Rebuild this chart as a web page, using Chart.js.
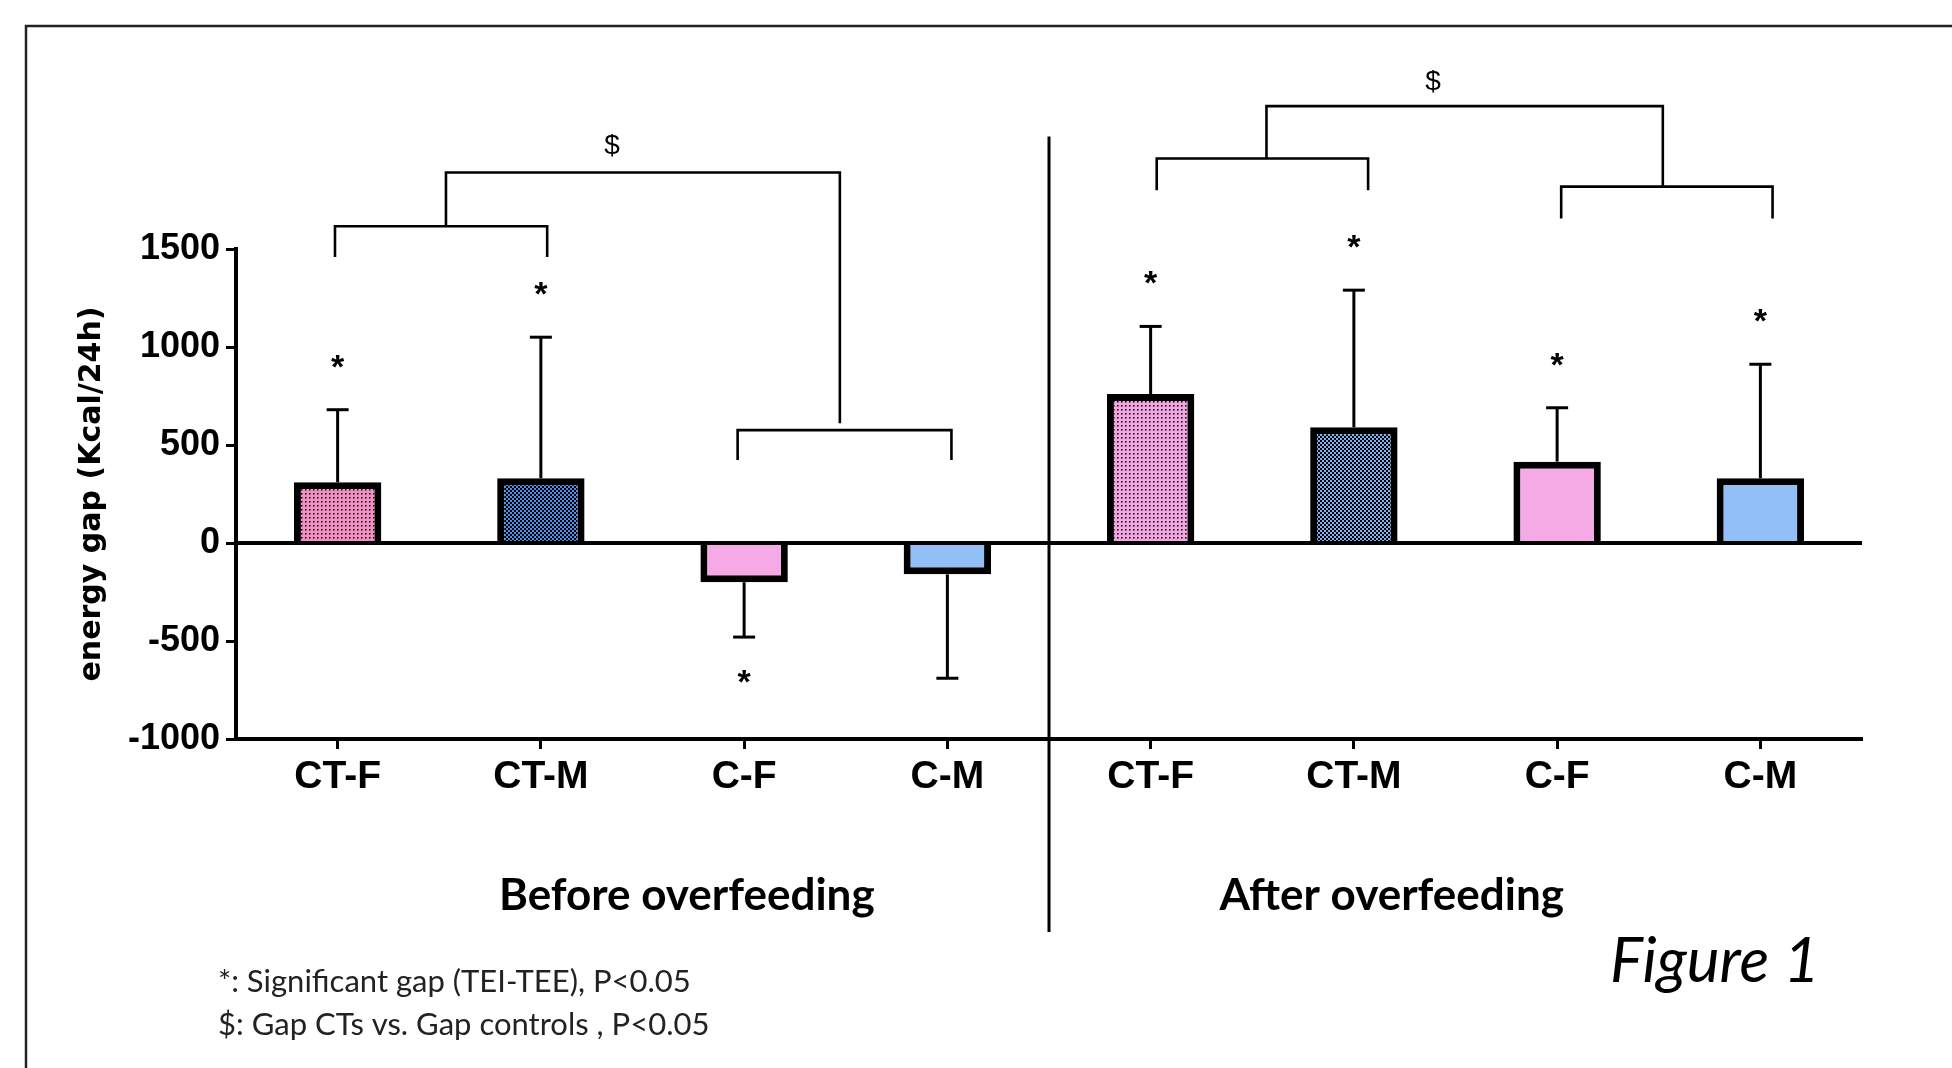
<!DOCTYPE html>
<html><head><meta charset="utf-8">
<script src="https://cdn.jsdelivr.net/npm/chart.js@4.4.1/dist/chart.umd.min.js"></script>
<style>html,body{margin:0;padding:0;background:#fff;}#wrap{width:1952px;height:1068px;position:relative;}</style>
</head><body><div id="wrap"><canvas id="c" width="1952" height="1068"></canvas></div>
<script>
// ---- data ----
const categories = ['CT-F', 'CT-M', 'C-F', 'C-M', 'CT-F', 'CT-M', 'C-F', 'C-M'];
const meanGap = [310, 330, -200, -160, 760, 590, 415, 330];
const sdGap = [370, 720, 280, 530, 345, 700, 275, 582];
const significant = [true, true, true, false, true, true, true, true];
const yTicks = [-1000, -500, 0, 500, 1000, 1500];
const groupLabels = ['Before overfeeding', 'After overfeeding'];
const notes = ['*: Significant gap (TEI-TEE), P<0.05', '$: Gap CTs vs. Gap controls , P<0.05'];
const yTitle = 'energy gap (Kcal/24h)';
const figureLabel = 'Figure 1';

// ---- styles ----
const canvas = document.getElementById('c');
const ctx0 = canvas.getContext('2d');
function dots(bg, dot, period, size) {
  const c = document.createElement('canvas');
  c.width = c.height = period;
  const g = c.getContext('2d');
  g.fillStyle = bg; g.fillRect(0, 0, period, period);
  g.fillStyle = dot; g.fillRect(1, 1, size, size);
  return ctx0.createPattern(c, 'repeat');
}
function checker(bg, dot) {
  const c = document.createElement('canvas');
  c.width = c.height = 4;
  const g = c.getContext('2d');
  g.fillStyle = bg; g.fillRect(0, 0, 4, 4);
  g.fillStyle = dot; g.fillRect(0, 0, 2, 2); g.fillRect(2, 2, 2, 2);
  return ctx0.createPattern(c, 'repeat');
}
const fills = [
  dots('#F48FC3', '#000', 4, 1.5),
  checker('#4B8FE8', '#000'),
  '#F5A9E5',
  '#92BFF7',
  dots('#F3A6E3', '#111', 4, 1.6),
  checker('#7EB2F2', '#000'),
  '#F5A9E5',
  '#92BFF7'
];

const annot = {
  id: 'annot',
  afterDatasetsDraw(chart) {
    const { ctx, scales: { x, y }, chartArea } = chart;
    ctx.save();
    ctx.strokeStyle = '#000';
    ctx.fillStyle = '#000';
    ctx.lineCap = 'butt';
    // zero line
    ctx.lineWidth = 4;
    ctx.beginPath();
    ctx.moveTo(chartArea.left, y.getPixelForValue(0));
    ctx.lineTo(chartArea.right, y.getPixelForValue(0));
    ctx.stroke();
    // error bars + asterisks
    meanGap.forEach((m, i) => {
      const px = x.getPixelForValue(i);
      const s = m >= 0 ? 1 : -1;
      const y0 = y.getPixelForValue(m);
      const end = m + s * sdGap[i];
      const y1 = y.getPixelForValue(end);
      ctx.lineWidth = 3;
      ctx.beginPath(); ctx.moveTo(px, y0); ctx.lineTo(px, y1); ctx.stroke();
      ctx.beginPath(); ctx.moveTo(px - 11, y1); ctx.lineTo(px + 11, y1); ctx.stroke();
      if (significant[i]) {
        const cy = y.getPixelForValue(end + s * 225);
        ctx.font = 'bold 34px "Liberation Sans"';
        ctx.textAlign = 'center';
        ctx.textBaseline = 'alphabetic';
        ctx.fillText('*', px, cy + 12);
      }
    });
    // brackets
    ctx.lineWidth = 2.6;
    ctx.lineJoin = 'miter';
    const X = i => x.getPixelForValue(i);
    const Y = v => y.getPixelForValue(v);
    function bracket(xl, xr, level, endL, endR) {
      ctx.beginPath();
      ctx.moveTo(X(xl), Y(endL)); ctx.lineTo(X(xl), Y(level)); ctx.lineTo(X(xr), Y(level)); ctx.lineTo(X(xr), Y(endR));
      ctx.stroke();
    }
    // before overfeeding
    bracket(-0.013, 1.031, 1616, 1459, 1459);
    bracket(1.968, 3.02, 576, 423, 423);
    bracket(0.533, 2.471, 1890, 1616, 611);
    // after overfeeding
    bracket(4.03, 5.07, 1962, 1800, 1800);
    bracket(6.02, 7.06, 1818, 1656, 1656);
    bracket(4.57, 6.52, 2229, 1962, 1818);
    ctx.font = '28px "Liberation Sans"';
    ctx.textAlign = 'center';
    ctx.textBaseline = 'middle';
    ctx.fillText('$', X(1.35), Y(2023));
    ctx.fillText('$', X(5.39), Y(2350));
    // divider
    ctx.lineWidth = 3;
    const dx = (X(3) + X(4)) / 2;
    ctx.beginPath(); ctx.moveTo(dx, Y(2074)); ctx.lineTo(dx, Y(-1985)); ctx.stroke();
    // group labels
    ctx.font = 'bold 44px Lato';
    ctx.fillText(groupLabels[0], X(1.718), 896);
    ctx.fillText(groupLabels[1], X(5.186), 896);
    // notes
    ctx.font = '31px Lato';
    ctx.textAlign = 'left';
    ctx.fillStyle = '#222';
    ctx.fillText(notes[0], 218, 982);
    ctx.fillText(notes[1], 218, 1025);
    // figure label
    ctx.fillStyle = '#000';
    ctx.font = 'italic 62px Lato';
    ctx.textBaseline = 'alphabetic';
    ctx.fillText(figureLabel, 1610, 982);
    // frame
    ctx.strokeStyle = '#222';
    ctx.lineWidth = 2.5;
    ctx.beginPath(); ctx.moveTo(26, 1068); ctx.lineTo(26, 26); ctx.lineTo(1952, 26); ctx.stroke();
    ctx.restore();
  }
};

new Chart(canvas, {
  type: 'bar',
  data: {
    labels: categories,
    datasets: [{
      data: meanGap,
      backgroundColor: fills,
      borderColor: '#000',
      borderWidth: 7,
      borderSkipped: 'start',
      barPercentage: 0.43,
      categoryPercentage: 1.0
    }]
  },
  options: {
    responsive: false,
    animation: false,
    devicePixelRatio: 1,
    layout: { padding: { top: 249, right: 90, left: 0, bottom: 0 } },
    plugins: { legend: { display: false }, tooltip: { enabled: false } },
    scales: {
      x: {
        offset: true,
        grid: { offset: false, drawOnChartArea: false, drawTicks: true, tickLength: 10, tickWidth: 3, tickColor: '#000', color: '#000' },
        border: { display: true, color: '#000', width: 4 },
        ticks: { color: '#000', padding: 5, font: { family: 'Liberation Sans', weight: 'bold', size: 39 }, maxRotation: 0, autoSkip: false },
        afterFit(s) { s.height = 329; }
      },
      y: {
        min: yTicks[0],
        max: yTicks[yTicks.length - 1],
        afterBuildTicks(s) { s.ticks = yTicks.map(v => ({ value: v })); },
        grid: { drawOnChartArea: false, drawTicks: true, tickLength: 10, tickWidth: 3, tickColor: '#000', color: '#000' },
        border: { display: true, color: '#000', width: 4 },
        ticks: { color: '#000', padding: 6, font: { family: 'Liberation Sans', weight: 'bold', size: 36 }, callback: v => String(v) },
        title: { display: true, text: yTitle, color: '#000', font: { family: 'DejaVu Sans', weight: 'bold', size: 30 }, padding: { top: 74, bottom: 0 } },
        afterFit(s) { s.width = 236; }
      }
    }
  },
  plugins: [annot]
});
</script>
</body></html>
